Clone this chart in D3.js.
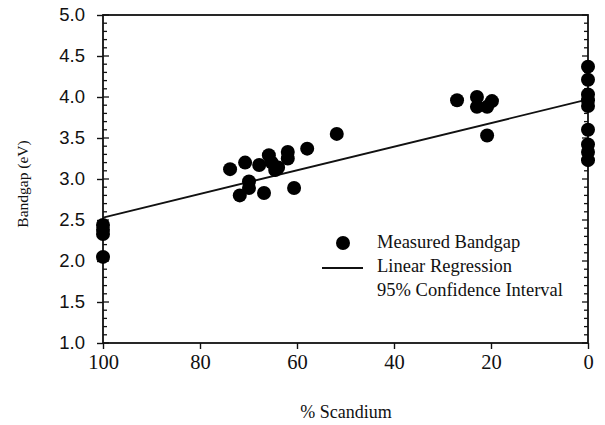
<!DOCTYPE html>
<html>
<head>
<meta charset="utf-8">
<script src="https://cdn.jsdelivr.net/npm/d3@7"></script>
<style>
  body { margin: 0; background: #fff; }
  svg { display: block; }
</style>
</head>
<body>
<div id="chart"></div>
<script>
// % scandium and measured bandgap (eV)
const scandium = [
  100, 100, 100, 100,
  73.8, 70.7, 67.8, 65.8, 65.2, 63.9, 64.5, 61.9, 61.9, 57.9, 51.8,
  69.9, 69.9, 71.8, 66.8, 60.6,
  27.0, 22.9, 22.9, 19.8, 20.8, 20.8,
  0, 0, 0, 0, 0, 0, 0, 0, 0
];
const bandgap = [
  2.44, 2.38, 2.33, 2.05,
  3.12, 3.20, 3.17, 3.29, 3.20, 3.14, 3.11, 3.33, 3.25, 3.37, 3.55,
  2.97, 2.89, 2.80, 2.83, 2.89,
  3.96, 4.00, 3.88, 3.95, 3.88, 3.53,
  4.37, 4.21, 4.03, 3.96, 3.89, 3.60, 3.42, 3.33, 3.23
];

// regression line endpoints
const fitX = [100, 0];
const fitY = [2.53, 3.97];

const xTicks = [100, 80, 60, 40, 20, 0];
const yTicks = [1.0, 1.5, 2.0, 2.5, 3.0, 3.5, 4.0, 4.5, 5.0];

const legendItems = ["Measured Bandgap", "Linear Regression", "95% Confidence Interval"];

const SERIF = "'Liberation Serif', 'Times New Roman', serif";
const SANS = "'Liberation Sans', Arial, sans-serif";

const width = 605, height = 425;
const margin = { top: 15, right: 17, bottom: 82, left: 103 };
const plotW = width - margin.left - margin.right;
const plotH = height - margin.top - margin.bottom;

const svg = d3.select("#chart").append("svg")
  .attr("width", width)
  .attr("height", height);

const g = svg.append("g").attr("transform", `translate(${margin.left},${margin.top})`);

const x = d3.scaleLinear().domain([100, 0]).range([0, plotW]);
const y = d3.scaleLinear().domain([1, 5]).range([plotH, 0]);

// frame
g.append("rect")
  .attr("width", plotW).attr("height", plotH)
  .attr("fill", "none").attr("stroke", "#111").attr("stroke-width", 1.8);

// minor y ticks (inside, both sides)
const minorY = d3.range(10, 51).map(d => d / 10);
const tickLen = d => (Math.round(d * 10) % 5 === 0 ? 6 : 4);
g.append("g").selectAll("line")
  .data(minorY).join("line")
  .attr("x1", 0).attr("x2", d => tickLen(d))
  .attr("y1", d => y(d)).attr("y2", d => y(d))
  .attr("stroke", "#111").attr("stroke-width", 1.3);
g.append("g").selectAll("line")
  .data(minorY).join("line")
  .attr("x1", plotW).attr("x2", d => plotW - tickLen(d))
  .attr("y1", d => y(d)).attr("y2", d => y(d))
  .attr("stroke", "#111").attr("stroke-width", 1.3);

// left axis: major ticks outward, sans labels
const yAxis = g.append("g")
  .call(d3.axisLeft(y).tickValues(yTicks).tickFormat(d3.format(".1f")).tickSize(6).tickPadding(12));
yAxis.select(".domain").remove();
yAxis.selectAll(".tick line").attr("stroke", "#111").attr("stroke-width", 1.4);
yAxis.selectAll(".tick text")
  .attr("font-family", SANS).attr("font-size", 18.5).attr("fill", "#111");

// bottom axis: serif labels
const xAxis = g.append("g")
  .attr("transform", `translate(0,${plotH})`)
  .call(d3.axisBottom(x).tickValues(xTicks).tickFormat(d3.format("d")).tickSize(6).tickPadding(5));
xAxis.select(".domain").remove();
xAxis.selectAll(".tick line").attr("stroke", "#111").attr("stroke-width", 1.4);
xAxis.selectAll(".tick text")
  .attr("font-family", SERIF).attr("font-size", 20.5).attr("fill", "#111");

// regression line
g.append("line")
  .attr("x1", x(fitX[0])).attr("y1", y(fitY[0]))
  .attr("x2", x(fitX[1])).attr("y2", y(fitY[1]))
  .attr("stroke", "#111").attr("stroke-width", 1.8);

// points
g.append("g").selectAll("circle")
  .data(scandium.map((s, i) => [s, bandgap[i]]))
  .join("circle")
  .attr("cx", d => x(d[0])).attr("cy", d => y(d[1]))
  .attr("r", 7).attr("fill", "#000");

// axis titles
svg.append("text")
  .attr("font-family", SERIF).attr("font-size", 18).attr("fill", "#111")
  .attr("x", 346).attr("y", 418).attr("text-anchor", "middle")
  .text("% Scandium");
svg.append("text")
  .attr("font-family", SERIF).attr("font-size", 15.5).attr("fill", "#111")
  .attr("transform", "translate(28,184) rotate(-90)")
  .attr("text-anchor", "middle")
  .text("Bandgap (eV)");

// legend
const leg = svg.append("g");
leg.append("circle").attr("cx", 343).attr("cy", 243).attr("r", 7).attr("fill", "#000");
leg.append("line").attr("x1", 322).attr("x2", 363).attr("y1", 268).attr("y2", 268)
  .attr("stroke", "#111").attr("stroke-width", 1.8);
leg.selectAll("text").data(legendItems).join("text")
  .attr("font-family", SERIF).attr("font-size", 18.5).attr("fill", "#111")
  .attr("x", 377).attr("y", (d, i) => 248 + i * 24)
  .text(d => d);
</script>
</body>
</html>
